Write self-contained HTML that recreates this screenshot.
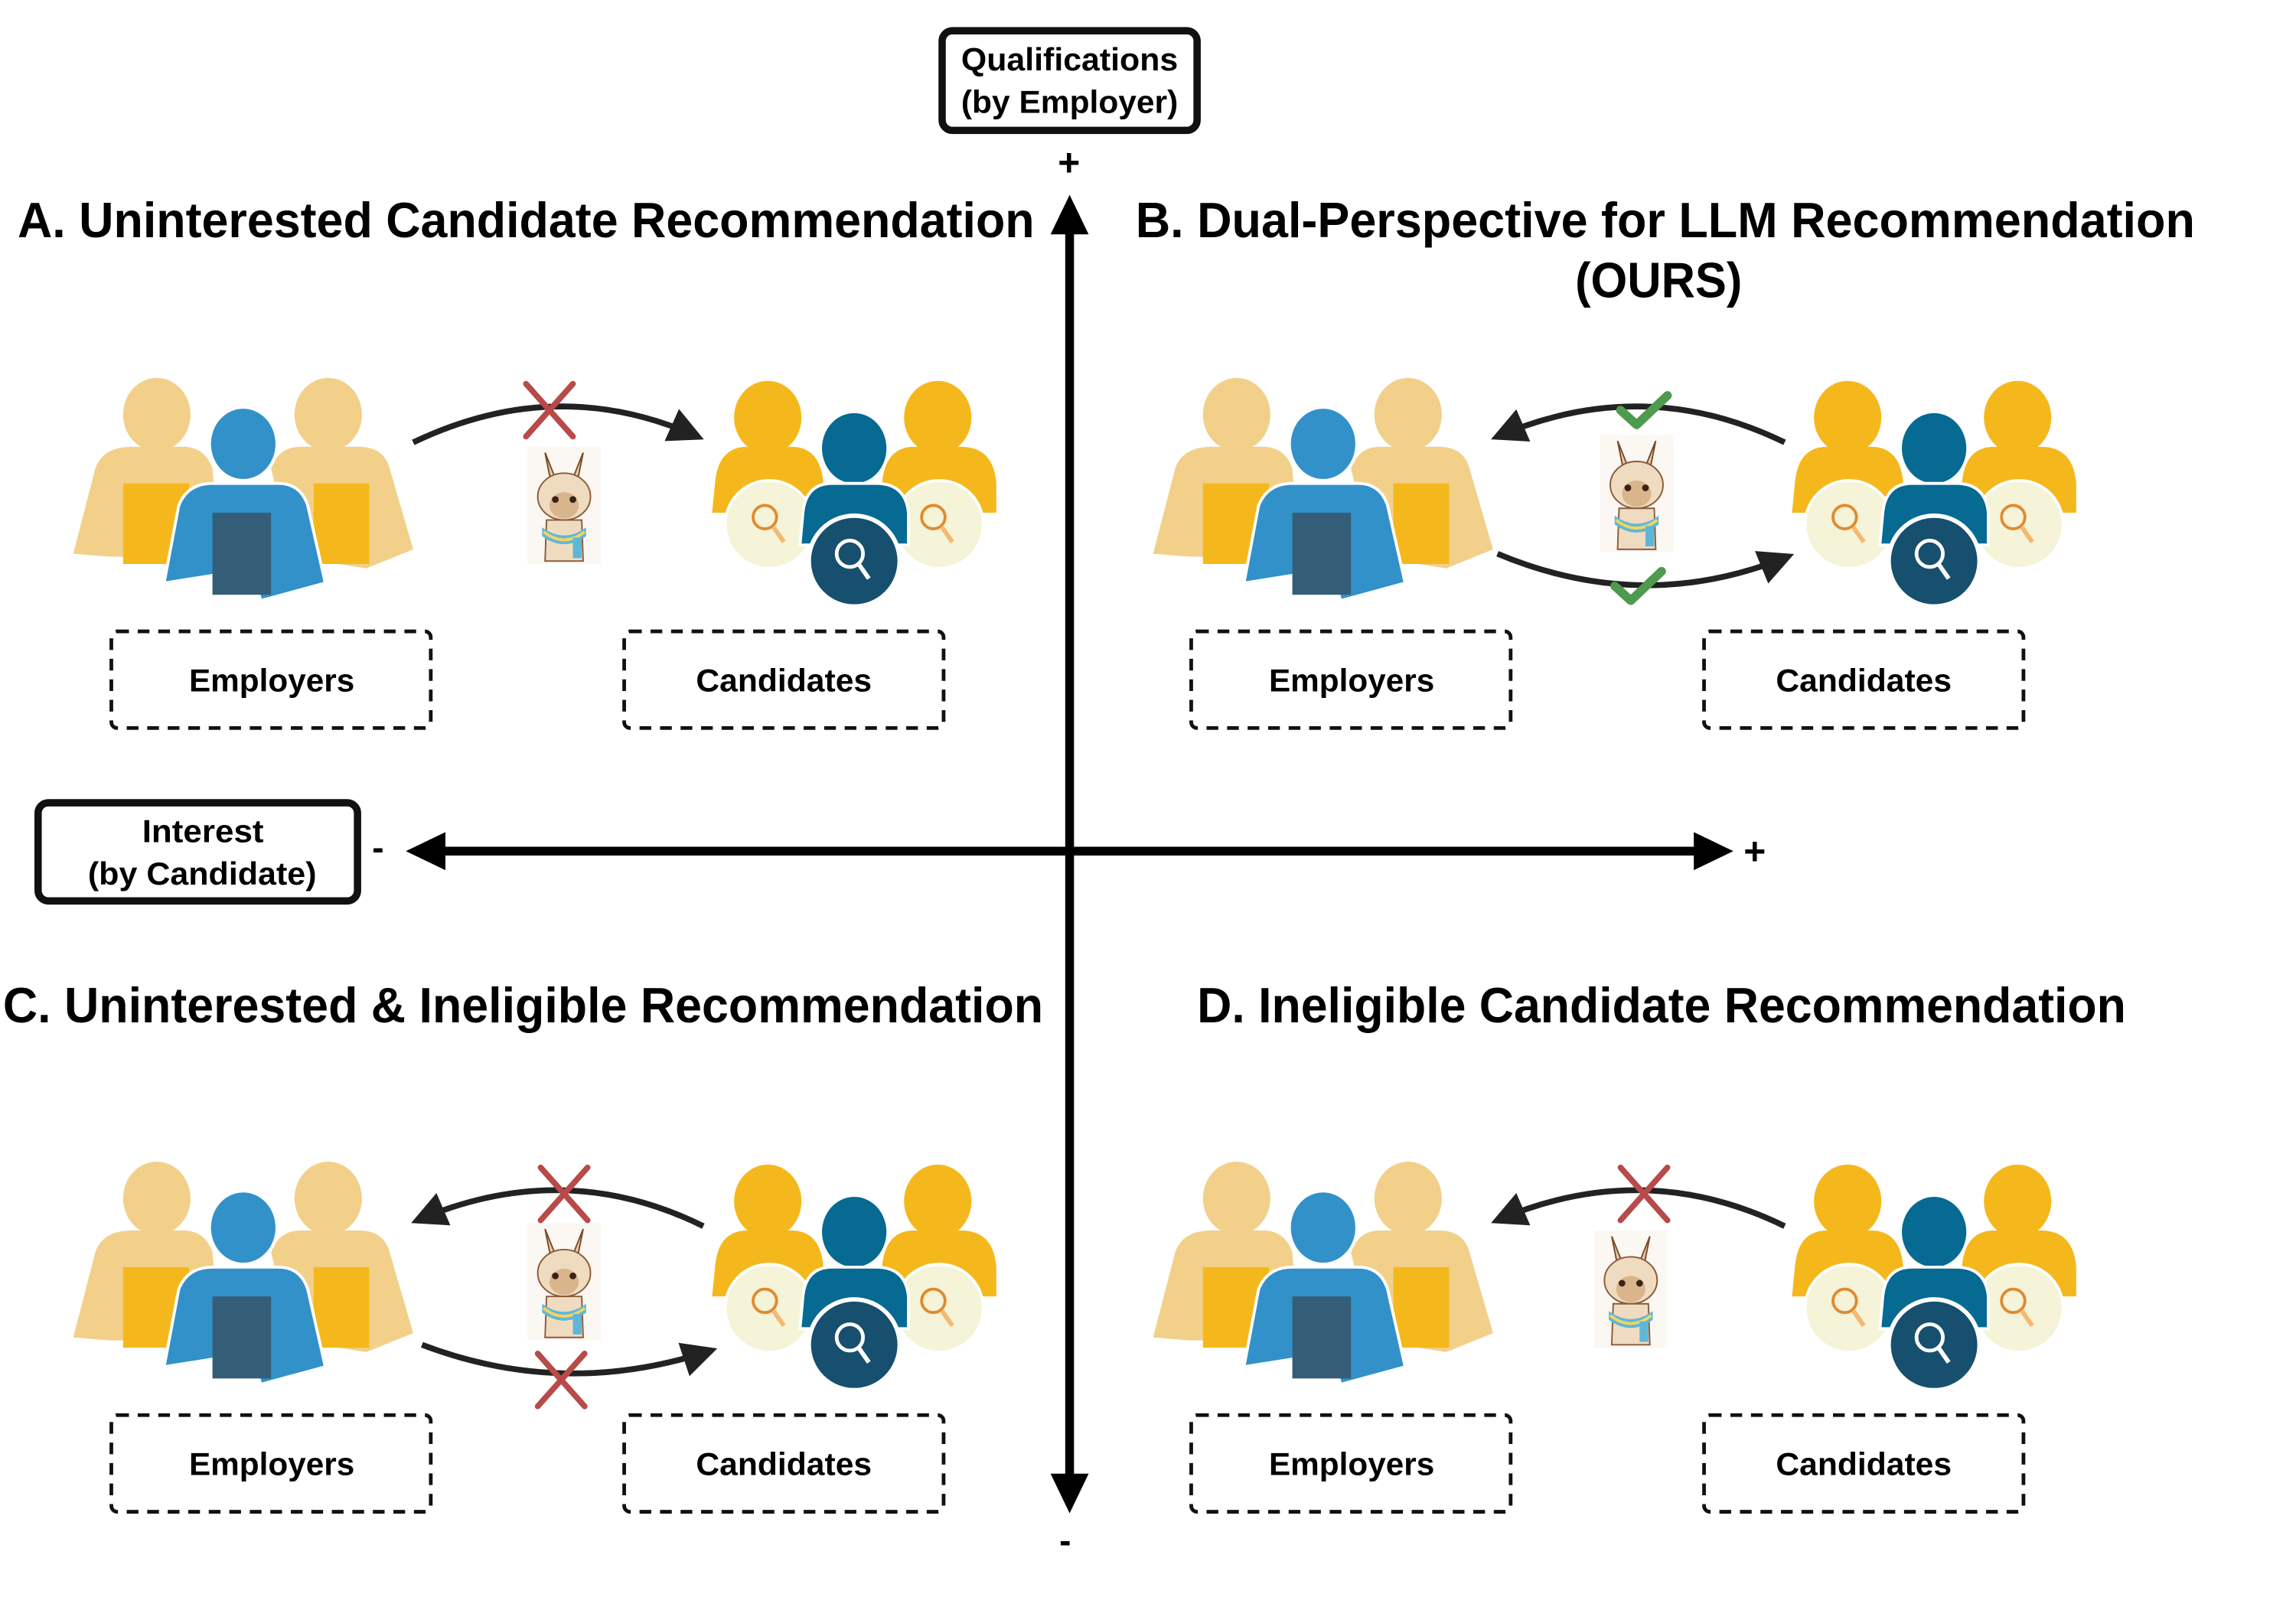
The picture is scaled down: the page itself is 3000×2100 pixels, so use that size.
<!DOCTYPE html>
<html><head><meta charset="utf-8"><style>html,body{margin:0;padding:0;background:#fff}svg{display:block}</style></head>
<body>
<svg width="3000" height="2100" viewBox="0 0 1567 1097" preserveAspectRatio="none" xmlns="http://www.w3.org/2000/svg" font-family="Liberation Sans, sans-serif" font-weight="bold">
<defs>
<g id="emp">
  <ellipse cx="107" cy="283" rx="23" ry="25" fill="#F2D08A"/>
  <ellipse cx="224" cy="283" rx="23" ry="25" fill="#F2D08A"/>
  <path d="M65 320 Q70 305 90 305 L125 305 Q140 305 145 320 L150 380 L75 380 L50 378 Z" fill="#F2D08A"/>
  <path d="M185 320 Q190 305 205 305 L245 305 Q262 305 266 320 L282 375 L250 388 L200 380 Z" fill="#F2D08A"/>
  <rect x="84" y="330" width="45" height="55" fill="#F5B81C"/>
  <rect x="214" y="330" width="38" height="55" fill="#F5B81C"/>
  <ellipse cx="166" cy="304" rx="24" ry="25" fill="#fff"/>
  <ellipse cx="166" cy="303" rx="22" ry="24" fill="#3391C9"/>
  <path d="M122 345 Q128 330 145 330 L190 330 Q205 330 210 345 L222 398 L178 410 L172 390 L150 392 L112 398 Z" fill="#3391C9" stroke="#fff" stroke-width="2"/>
  <rect x="145" y="350" width="40" height="56" fill="#345E78"/>
</g>
<g id="cand">
  <ellipse cx="524" cy="285" rx="23" ry="25" fill="#F5B81C"/>
  <ellipse cx="640" cy="285" rx="23" ry="25" fill="#F5B81C"/>
  <path d="M488 330 Q490 305 510 305 L540 305 Q560 305 562 330 L562 350 L486 350 Z" fill="#F5B81C"/>
  <path d="M602 330 Q604 305 624 305 L656 305 Q678 305 680 330 L680 350 L602 350 Z" fill="#F5B81C"/>
  <circle cx="525" cy="358" r="30" fill="#F5F3D8" stroke="#fff" stroke-width="2"/>
  <circle cx="641" cy="358" r="30" fill="#F5F3D8" stroke="#fff" stroke-width="2"/>
  <circle cx="522" cy="353" r="8" fill="none" stroke="#E08A2E" stroke-width="2"/>
  <line x1="528" y1="360" x2="535" y2="370" stroke="#F5B870" stroke-width="3"/>
  <circle cx="637" cy="353" r="8" fill="none" stroke="#E08A2E" stroke-width="2"/>
  <line x1="643" y1="360" x2="650" y2="370" stroke="#F5B870" stroke-width="3"/>
  <ellipse cx="583" cy="306" rx="23" ry="25" fill="#066A93" stroke="#fff" stroke-width="2"/>
  <path d="M548 350 Q550 330 568 330 L598 330 Q618 330 620 350 L620 372 L546 372 Z" fill="#066A93" stroke="#fff" stroke-width="2"/>
  <circle cx="583" cy="383" r="31" fill="#174F6E" stroke="#fff" stroke-width="3"/>
  <circle cx="580" cy="378" r="9" fill="none" stroke="#fff" stroke-width="2.5"/>
  <line x1="586" y1="385" x2="593" y2="395" stroke="#fff" stroke-width="3"/>
</g>
<g id="llama">
  <rect x="0" y="0" width="50" height="80" fill="#fbf7f2"/>
  <path d="M12 4 L16 24 L20 24 Z M38 4 L34 24 L30 24 Z" fill="#e6cba7" stroke="#7a4a2a" stroke-width="1"/>
  <ellipse cx="25" cy="34" rx="18" ry="16" fill="#efdcc0" stroke="#8a5a3a" stroke-width="1"/>
  <ellipse cx="25" cy="40" rx="10" ry="9" fill="#d9b58c"/>
  <circle cx="19" cy="36" r="2.3" fill="#3a2218"/><circle cx="31" cy="36" r="2.3" fill="#3a2218"/>
  <path d="M13 50 L12 78 L38 78 L37 50 Z" fill="#efdcc0" stroke="#8a5a3a" stroke-width="1"/>
  <path d="M10 55 Q25 66 40 55 L40 61 Q25 72 10 61 Z" fill="#5fb7d8"/>
  <path d="M11 58 Q25 69 39 58" stroke="#f2d560" stroke-width="2" fill="none"/>
  <rect x="31" y="62" width="6" height="14" fill="#5fb7d8"/>
</g>
<g id="xm" stroke="#B84A4A" stroke-width="4" stroke-linecap="round">
  <line x1="-16" y1="-18" x2="16" y2="18"/><line x1="16" y1="-18" x2="-16" y2="18"/>
</g>
<g id="ck" fill="none" stroke="#4E9A4E" stroke-width="6" stroke-linecap="round" stroke-linejoin="round">
  <path d="M-16 0 L-5 10 L16 -10"/>
</g>
<g id="boxes" fill="none" stroke="#111" stroke-width="2.5" stroke-dasharray="8 6">
  <rect x="76" y="431" width="218" height="66" rx="4"/>
  <rect x="426" y="431" width="218" height="66" rx="4"/>
</g>
<g id="lbls" font-size="22" fill="#000" stroke="none" stroke-dasharray="none">
  <text x="129" y="472" textLength="113" lengthAdjust="spacingAndGlyphs">Employers</text>
  <text x="475" y="472" textLength="120" lengthAdjust="spacingAndGlyphs">Candidates</text>
</g>
<marker id="ah" viewBox="0 0 10 10" refX="8" refY="5" markerWidth="6" markerHeight="6" orient="auto"><path d="M0 0 L10 5 L0 10 Z" fill="#222"/></marker>
</defs>

<line x1="730" y1="150" x2="730" y2="1015" stroke="#000" stroke-width="6"/>
<line x1="295" y1="581" x2="1165" y2="581" stroke="#000" stroke-width="6"/>
<path d="M730 133 L743 160 L717 160 Z" fill="#000"/>
<path d="M730 1033 L743 1006 L717 1006 Z" fill="#000"/>
<path d="M277 581 L304 568 L304 594 Z" fill="#000"/>
<path d="M1183 581 L1156 568 L1156 594 Z" fill="#000"/>
<text x="722" y="120" font-size="26">+</text>
<text x="1190" y="590" font-size="26">+</text>
<text x="254" y="587" font-size="24">-</text>
<text x="723" y="1060" font-size="24">-</text>

<rect x="643" y="21" width="174" height="68" rx="7" fill="#fff" stroke="#111" stroke-width="5"/>
<text x="656" y="48" font-size="22" textLength="148" lengthAdjust="spacingAndGlyphs">Qualifications</text>
<text x="656" y="77" font-size="22" textLength="148" lengthAdjust="spacingAndGlyphs">(by Employer)</text>
<rect x="26" y="548" width="218" height="67" rx="7" fill="#fff" stroke="#111" stroke-width="5"/>
<text x="97" y="575" font-size="22" textLength="83" lengthAdjust="spacingAndGlyphs">Interest</text>
<text x="60" y="604" font-size="22" textLength="156" lengthAdjust="spacingAndGlyphs">(by Candidate)</text>

<text x="12" y="162" font-size="34" textLength="694" lengthAdjust="spacingAndGlyphs">A. Uninterested Candidate Recommendation</text>
<text x="775" y="162" font-size="34" textLength="723" lengthAdjust="spacingAndGlyphs">B. Dual-Perspective for LLM Recommendation</text>
<text x="1075" y="203" font-size="34" textLength="114" lengthAdjust="spacingAndGlyphs">(OURS)</text>
<text x="2" y="698" font-size="34" textLength="710" lengthAdjust="spacingAndGlyphs">C. Uninterested &amp; Ineligible Recommendation</text>
<text x="817" y="698" font-size="34" textLength="634" lengthAdjust="spacingAndGlyphs">D. Ineligible Candidate Recommendation</text>

<g>
<use href="#emp"/><use href="#cand"/><use href="#boxes"/><use href="#lbls"/>
<path d="M282 302 Q380 255 476 298" fill="none" stroke="#222" stroke-width="4" marker-end="url(#ah)"/>
<use href="#xm" x="375" y="280"/>
<use href="#llama" x="360" y="305"/>
</g>
<g transform="translate(737,0)">
<use href="#emp"/><use href="#cand"/><use href="#boxes"/><use href="#lbls"/>
<path d="M481 302 Q385 255 285 298" fill="none" stroke="#222" stroke-width="4" marker-end="url(#ah)"/>
<path d="M285 378 Q385 420 483 380" fill="none" stroke="#222" stroke-width="4" marker-end="url(#ah)"/>
<use href="#ck" x="385" y="280"/>
<use href="#ck" x="381" y="400"/>
<use href="#llama" x="355" y="297"/>
</g>
<g transform="translate(0,535)">
<use href="#emp"/><use href="#cand"/><use href="#boxes"/><use href="#lbls"/>
<path d="M480 302 Q385 255 285 298" fill="none" stroke="#222" stroke-width="4" marker-end="url(#ah)"/>
<path d="M288 383 Q385 420 485 387" fill="none" stroke="#222" stroke-width="4" marker-end="url(#ah)"/>
<use href="#xm" x="385" y="280"/>
<use href="#xm" x="383" y="407"/>
<use href="#llama" x="360" y="300"/>
</g>
<g transform="translate(737,535)">
<use href="#emp"/><use href="#cand"/><use href="#boxes"/><use href="#lbls"/>
<path d="M481 302 Q385 255 285 298" fill="none" stroke="#222" stroke-width="4" marker-end="url(#ah)"/>
<use href="#xm" x="385" y="280"/>
<use href="#llama" x="351" y="305"/>
</g>
</svg>
</body></html>
